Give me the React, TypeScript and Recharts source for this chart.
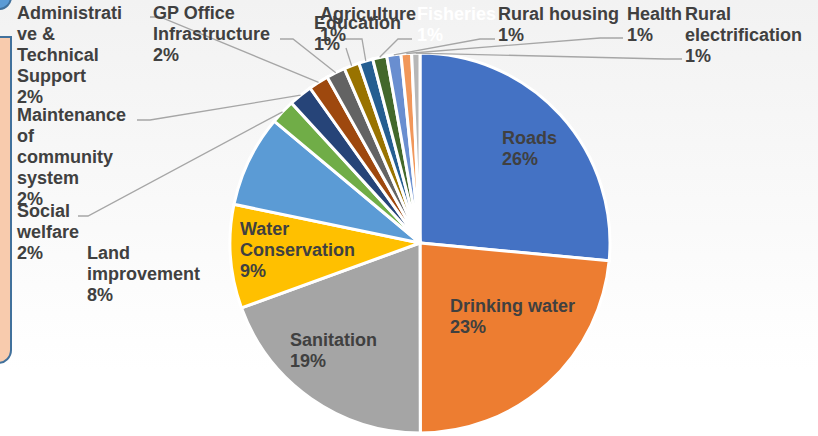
import { PieChart, Pie, Cell } from "recharts";

const categories = [
  "Roads",
  "Drinking water",
  "Sanitation",
  "Water Conservation",
  "Land improvement",
  "Social welfare",
  "Maintenance of community system",
  "Administrative & Technical Support",
  "GP Office Infrastructure",
  "Education",
  "Agriculture",
  "Fisheries",
  "Rural housing",
  "Health",
  "Rural electrification",
];

// share of spending
const shares = [26.45, 23.45, 19.45, 8.8, 7.8, 2.1, 2.0, 1.7, 1.6, 1.3, 1.2, 1.2, 1.2, 0.9, 0.7];

const colors = [
  "#4472c4", "#ed7d31", "#a5a5a5", "#ffc000", "#5b9bd5",
  "#70ad47", "#264478", "#9e480e", "#636363", "#997300",
  "#255e91", "#43682b", "#698ed0", "#f1975a", "#b7b7b7",
];

// how each label wraps in the picture
const wrapped = [
  ["Roads"],
  ["Drinking water"],
  ["Sanitation"],
  ["Water", "Conservation"],
  ["Land", "improvement"],
  ["Social", "welfare"],
  ["Maintenance", "of", "community", "system"],
  ["Administrati", "ve &", "Technical", "Support"],
  ["GP Office", "Infrastructure"],
  ["Education"],
  ["Agriculture"],
  ["Fisheries"],
  ["Rural housing"],
  ["Health"],
  ["Rural", "electrification"],
];

// label placement, relative to the pie centre
type Place = { dx: number; dy: number; lead?: number[]; fill?: string };
const places: Place[] = [
  { dx: 82, dy: -99 },
  { dx: 30, dy: 69 },
  { dx: -130, dy: 103 },
  { dx: -180, dy: -8 },
  { dx: -333, dy: 16 },
  { dx: -403, dy: -26, lead: [-342, -27, -332, -27] },
  { dx: -403, dy: -122, lead: [-283, -123, -270, -123] },
  { dx: -403, dy: -224, lead: [-270, -226, -260, -226] },
  { dx: -267, dy: -224, lead: [-140, -204, -127, -204] },
  { dx: -106, dy: -214, lead: [-74, -195, -74, -195] },
  { dx: -100, dy: -223, lead: [-80, -204, -58, -204] },
  { dx: -3, dy: -223, lead: [-8, -204, -22, -204], fill: "#ffffff" },
  { dx: 78, dy: -223, lead: [75, -204, 60, -204] },
  { dx: 207, dy: -223, lead: [203, -205, 180, -205] },
  { dx: 265, dy: -223, lead: [262, -184, 245, -184] },
];

const data = categories.map((name, i) => ({ name, value: shares[i] }));

const RAD = Math.PI / 180;
const FONT = "'Liberation Sans', Arial, sans-serif";

function renderLabel(props: any) {
  const { cx, cy, midAngle, outerRadius, percent, index } = props;
  const p = places[index];
  const x = cx + p.dx;
  const y = cy + p.dy;
  const lines = [...wrapped[index], `${Math.round(percent * 100)}%`];
  let leader = null;
  if (p.lead) {
    const ex = cx + outerRadius * Math.cos(-midAngle * RAD);
    const ey = cy + outerRadius * Math.sin(-midAngle * RAD);
    const pts = `${cx + p.lead[0]},${cy + p.lead[1]} ${cx + p.lead[2]},${cy + p.lead[3]} ${ex},${ey}`;
    leader = <polyline points={pts} fill="none" stroke="#a6a6a6" strokeWidth={1.3} />;
  }
  return (
    <g key={`lbl-${index}`}>
      {leader}
      <text
        x={x}
        y={y}
        fill={p.fill || "#404040"}
        fontSize={18}
        fontWeight="bold"
        fontFamily={FONT}
        textAnchor="start"
      >
        {lines.map((t, k) => (
          <tspan key={k} x={x} dy={k === 0 ? 0 : 21}>
            {t}
          </tspan>
        ))}
      </text>
    </g>
  );
}

export default function App() {
  return (
    <div
      style={{
        position: "fixed",
        left: 0,
        top: 0,
        width: 818,
        height: 436,
        overflow: "hidden",
        background: "linear-gradient(to bottom, #f2f2f2 0%, #ffffff 85%)",
      }}
    >
      <div
        style={{
          position: "absolute",
          left: -20,
          top: 36,
          width: 28,
          height: 324,
          background: "#f8cbad",
          border: "2px solid #41719c",
          borderRadius: "0 0 14px 0",
        }}
      />
      <div
        style={{
          position: "absolute",
          left: -14,
          top: -16,
          width: 22,
          height: 22,
          borderRadius: "50%",
          background: "#5b9bd5",
          border: "2px solid #41719c",
        }}
      />
      <div style={{ position: "absolute", left: 0, top: 0 }}>
        <PieChart width={818} height={436} margin={{ top: 0, right: 0, bottom: 0, left: 0 }}>
          <Pie
            data={data}
            dataKey="value"
            nameKey="name"
            cx={420}
            cy={243}
            outerRadius={190}
            startAngle={90}
            endAngle={-270}
            stroke="#ffffff"
            strokeWidth={3}
            label={renderLabel}
            labelLine={false}
            isAnimationActive={false}
          >
            {data.map((d, i) => (
              <Cell key={d.name} fill={colors[i]} />
            ))}
          </Pie>
        </PieChart>
      </div>
    </div>
  );
}
